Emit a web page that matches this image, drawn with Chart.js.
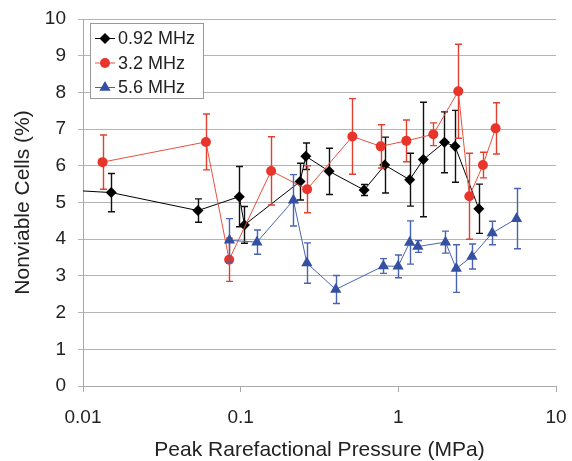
<!DOCTYPE html>
<html>
<head>
<meta charset="utf-8">
<script src="https://cdn.jsdelivr.net/npm/chart.js@4/dist/chart.umd.min.js"></script>
<style>
    html, body { margin: 0; padding: 0; background: #fff; }
</style>
</head>
<body>
<canvas id="grafico" width="572" height="461"></canvas>
<script>
// Dados (pressão em MPa, células inviáveis em %)
const ticksX = [0.01, 0.1, 1, 10];

// 0.92 MHz (o primeiro ponto fica fora do eixo, só a linha aparece)
const x092 = [0.005, 0.0151, 0.0536, 0.098, 0.1057, 0.238, 0.259, 0.364, 0.607, 0.82, 1.18, 1.44, 1.96, 2.29, 3.24];
const y092 = [5.39, 5.27, 4.78, 5.16, 4.39, 5.57, 6.26, 5.85, 5.34, 6.02, 5.62, 6.17, 6.64, 6.53, 4.83];
const erro092 = [0, 0.52, 0.32, 0.82, 0.5, 0.5, 0.36, 0.63, 0.15, 0.76, 0.72, 1.56, 0.83, 0.98, 0.67];

// 3.2 MHz
const x32 = [0.0133, 0.0602, 0.0845, 0.156, 0.264, 0.511, 0.773, 1.124, 1.667, 2.40, 2.82, 3.44, 4.14];
const y32 = [6.10, 6.65, 3.44, 5.86, 5.36, 6.80, 6.53, 6.68, 6.86, 8.03, 5.17, 6.02, 7.02];
const erro32 = [0.74, 0.76, 0.59, 0.93, 0.64, 1.03, 0.59, 0.57, 0.31, 1.28, 1.17, 0.35, 0.7];

// 5.6 MHz
const x56 = [0.0849, 0.1268, 0.216, 0.263, 0.401, 0.804, 0.996, 1.18, 1.33, 1.99, 2.33, 2.93, 3.94, 5.62];
const y56 = [3.97, 3.92, 5.06, 3.35, 2.63, 3.27, 3.26, 3.91, 3.80, 3.92, 3.20, 3.53, 4.17, 4.56];
const erro56 = [0.59, 0.33, 0.7, 0.55, 0.38, 0.2, 0.31, 0.59, 0.16, 0.3, 0.65, 0.34, 0.32, 0.82];

const fonte = "'Liberation Sans', Arial, sans-serif";
const corTexto = '#222';

function pontos(xs, ys) {
    return xs.map((x, i) => ({ x: x, y: ys[i] }));
}

// Desenha um marcador simples (usado na legenda)
function desenharMarcador(ctx, estilo, x, y, r, cor) {
    ctx.fillStyle = cor;
    ctx.beginPath();
    if (estilo === 'circle') {
        ctx.arc(x, y, r, 0, Math.PI * 2);
    } else if (estilo === 'rectRot') {
        ctx.moveTo(x - r, y);
        ctx.lineTo(x, y - r);
        ctx.lineTo(x + r, y);
        ctx.lineTo(x, y + r);
    } else {
        const h = r * Math.sqrt(3) / 2;
        ctx.moveTo(x, y - r);
        ctx.lineTo(x + h, y + r / 2);
        ctx.lineTo(x - h, y + r / 2);
    }
    ctx.closePath();
    ctx.fill();
}

// Barras de erro desenhadas antes de cada série
const pluginBarrasErro = {
    id: 'barrasErro',
    beforeDatasetDraw(chart, args) {
        const ds = chart.data.datasets[args.index];
        if (!ds.erros) return;
        const ctx = chart.ctx;
        const area = chart.chartArea;
        const sx = chart.scales.x;
        const sy = chart.scales.y;
        ctx.save();
        ctx.beginPath();
        ctx.rect(area.left, area.top, area.right - area.left, area.bottom - area.top);
        ctx.clip();
        ctx.strokeStyle = ds.corErro;
        ctx.lineWidth = 1.4;
        ds.data.forEach((p, i) => {
            const e = ds.erros[i];
            if (!e) return;
            const px = Math.round(sx.getPixelForValue(p.x)) + 0.5;
            const topo = sy.getPixelForValue(p.y + e);
            const base = sy.getPixelForValue(p.y - e);
            ctx.beginPath();
            ctx.moveTo(px, topo);
            ctx.lineTo(px, base);
            ctx.moveTo(px - 3.5, topo);
            ctx.lineTo(px + 3.5, topo);
            ctx.moveTo(px - 3.5, base);
            ctx.lineTo(px + 3.5, base);
            ctx.stroke();
        });
        ctx.restore();
    }
};

// Legenda com caixa, dentro da área do gráfico
const pluginLegenda = {
    id: 'legendaCaixa',
    afterDraw(chart) {
        const ctx = chart.ctx;
        const area = chart.chartArea;
        const x0 = area.left + 7;
        const y0 = area.top + 4;
        ctx.save();
        ctx.fillStyle = '#fff';
        ctx.fillRect(x0, y0, 113, 75);
        ctx.strokeStyle = '#999';
        ctx.lineWidth = 1;
        ctx.strokeRect(x0 + 0.5, y0 + 0.5, 113, 75);
        ctx.font = '18px ' + fonte;
        ctx.textBaseline = 'middle';
        chart.data.datasets.forEach((ds, i) => {
            const cy = y0 + 15.5 + i * 24.5;
            ctx.strokeStyle = ds.borderColor;
            ctx.lineWidth = 1;
            ctx.beginPath();
            ctx.moveTo(x0 + 5, cy);
            ctx.lineTo(x0 + 25, cy);
            ctx.stroke();
            desenharMarcador(ctx, ds.pointStyle, x0 + 15, cy, ds.pointRadius, ds.pointBackgroundColor);
            ctx.fillStyle = corTexto;
            ctx.fillText(ds.label, x0 + 28, cy + 1);
        });
        ctx.restore();
    }
};

const ctx = document.getElementById('grafico').getContext('2d');
new Chart(ctx, {
    type: 'line',
    data: {
        datasets: [
            {
                label: '0.92 MHz',
                data: pontos(x092, y092),
                erros: erro092,
                corErro: '#111',
                borderColor: '#000',
                borderWidth: 1,
                pointStyle: 'rectRot',
                pointRadius: 5.5,
                pointBackgroundColor: '#000',
                pointBorderWidth: 0,
                order: 3
            },
            {
                label: '3.2 MHz',
                data: pontos(x32, y32),
                erros: erro32,
                corErro: '#e2402e',
                borderColor: '#e8503e',
                borderWidth: 1,
                pointStyle: 'circle',
                pointRadius: 5,
                pointBackgroundColor: '#e8342a',
                pointBorderWidth: 0,
                order: 2
            },
            {
                label: '5.6 MHz',
                data: pontos(x56, y56),
                erros: erro56,
                corErro: '#4a63b0',
                borderColor: '#4a63b0',
                borderWidth: 1,
                pointStyle: 'triangle',
                pointRadius: 6.5,
                pointBackgroundColor: '#3450a2',
                pointBorderWidth: 0,
                order: 1
            }
        ]
    },
    options: {
        responsive: false,
        animation: false,
        layout: { padding: { top: 19, right: 16, left: 0, bottom: 0 } },
        scales: {
            x: {
                type: 'logarithmic',
                min: 0.01,
                max: 10,
                afterBuildTicks: scale => { scale.ticks = ticksX.map(v => ({ value: v })); },
                afterFit: scale => {
                    scale.height = 75;
                    scale.paddingLeft = 0;
                    scale.paddingRight = 0;
                },
                ticks: {
                    autoSkip: false,
                    maxRotation: 0,
                    padding: 14,
                    color: corTexto,
                    font: { family: fonte, size: 19 },
                    callback: v => String(v)
                },
                grid: { drawOnChartArea: false, drawTicks: true, tickLength: 6, color: '#a8a8a8' },
                border: { color: '#a8a8a8' },
                title: {
                    display: true,
                    text: 'Peak Rarefactional Pressure (MPa)',
                    color: corTexto,
                    font: { family: fonte, size: 21, lineHeight: 1 },
                    padding: { top: 0, bottom: 0 }
                }
            },
            y: {
                min: 0,
                max: 10,
                afterFit: scale => {
                    scale.width = 83;
                    scale.paddingTop = 0;
                    scale.paddingBottom = 0;
                },
                ticks: {
                    stepSize: 1,
                    padding: 12,
                    color: corTexto,
                    font: { family: fonte, size: 19 }
                },
                grid: { tickLength: 5, color: '#b4b4b4' },
                border: { color: '#a8a8a8' },
                title: {
                    display: true,
                    text: 'Nonviable Cells (%)',
                    color: corTexto,
                    font: { family: fonte, size: 21, lineHeight: 1 },
                    padding: { top: 13, bottom: 0 }
                }
            }
        },
        plugins: {
            legend: { display: false },
            tooltip: { enabled: false }
        }
    },
    plugins: [pluginBarrasErro, pluginLegenda]
});
</script>
</body>
</html>
